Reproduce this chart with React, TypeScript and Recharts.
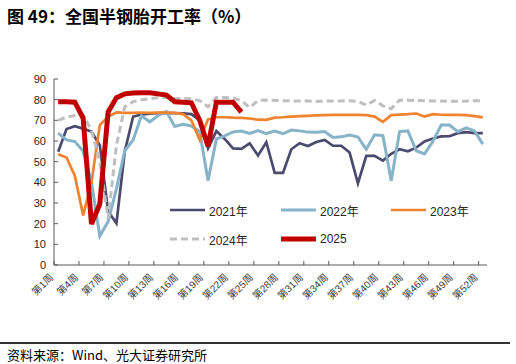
import React from "react"
import { LineChart, Line, XAxis, YAxis } from "recharts"

// 周次 1..52
const weeks = [
  1, 2, 3, 4, 5, 6, 7, 8, 9, 10, 11, 12, 13, 14, 15, 16, 17, 18, 19, 20, 21, 22, 23, 24, 25, 26,
  27, 28, 29, 30, 31, 32, 33, 34, 35, 36, 37, 38, 39, 40, 41, 42, 43, 44, 45, 46, 47, 48, 49, 50, 51, 52,
]
const labelWeeks = [1, 4, 7, 10, 13, 16, 19, 22, 25, 28, 31, 34, 37, 40, 43, 46, 49, 52]
const yTicks = [0, 10, 20, 30, 40, 50, 60, 70, 80, 90]

const y2021 = [
  54.8, 65.8, 67.2, 66, 64.5, 58, 26, 20.2, 55, 71.8, 72.8, 73.2, 73.5, 73.5, 73.5, 73.4, 73, 70, 56.5, 64.8,
  61, 56.4, 56.2, 58.9, 53, 59.4, 44.6, 44.6, 56, 58.9, 57.6, 59.5, 60.5, 57.7, 57.7, 54.4, 39.5, 52.8, 52.8,
  50.5, 53.8, 56, 55, 56.8, 59.8, 61.2, 62.2, 62.3, 63.8, 64.3, 63.8, 63.8,
]
const y2022 = [
  63.8, 60.5, 59.7, 55.2, 40, 14, 21, 37, 55.3, 60.5, 72.2, 69.3, 72.2, 74.3, 67, 68.1, 67.3, 64.5, 40.8, 61,
  62.5, 64.4, 64.8, 63.7, 65, 63.6, 64.8, 63.5, 65.3, 64.9, 64.3, 64.2, 64.6, 61.7, 62, 62.9, 61.9, 56, 63,
  62.6, 40.8, 64.5, 64.9, 55.3, 53.8, 59.8, 67.7, 67.7, 64.5, 66.4, 64.9, 58.5,
]
const y2023 = [
  53.6, 52, 43.2, 24, 40, 67.7, 71.8, 73.8, 73.6, 73.6, 73.8, 73.6, 73.7, 73.7, 73.6, 73, 70, 60.5, 70.5, 71.5,
  71.5, 71.3, 71.2, 70.9, 70.3, 70.2, 71.3, 71.5, 71.8, 72, 72.2, 72.4, 72.5, 72.6, 72.6, 72.6, 72.6, 72.5,
  71.8, 69.3, 72.5, 72.8, 73, 73.3, 71.8, 73, 72.7, 72.6, 72.6, 72.5, 72, 71.4,
]
const y2024 = [
  70, 71.6, 72.3, 72.8, 65, 50, 22.5, 58, 76.6, 79, 80, 80.4, 81, 81, 80.6, 80.6, 80.5, 79.5, 76.6, 81, 81,
  80.8, 79.5, 76.2, 79.6, 79.8, 79.6, 79.5, 79.4, 79.3, 79.3, 79.2, 79.3, 79.3, 79.4, 79.5, 79.2, 77.4, 79.6,
  77, 75.6, 79.8, 79.7, 79.6, 79.5, 79.4, 79.4, 79.2, 79.2, 79.3, 79.5, 79.5,
]
const y2025 = [
  79, 79, 78.8, 71, 19.8, 29.5, 74, 81, 82.8, 83.2, 83.4, 83.3, 82.8, 82.2, 79, 78.8, 78.5, 70, 57.5, 78.8,
  78.8, 78.8, 74,
]

const series = [
  { key: "y2021", name: "2021年", color: "#4B4A6E", width: 2.7, dash: undefined as string | undefined },
  { key: "y2022", name: "2022年", color: "#86B3C8", width: 3, dash: undefined },
  { key: "y2023", name: "2023年", color: "#F0832F", width: 2.7, dash: undefined },
  { key: "y2024", name: "2024年", color: "#BFBFBF", width: 3, dash: "7 4" },
  { key: "y2025", name: "2025", color: "#C00000", width: 5, dash: undefined },
]

const data = weeks.map((w, i) => ({
  week: w,
  y2021: y2021[i],
  y2022: y2022[i],
  y2023: y2023[i],
  y2024: y2024[i],
  y2025: i < y2025.length ? y2025[i] : null,
}))

const FONT = "'Liberation Sans', 'Noto Sans CJK SC', sans-serif"

const WeekTick = (props: any) => {
  const { x, y, payload } = props
  const week = payload.value + 0.5
  return (
    <text
      x={0}
      y={0}
      transform={`translate(${x},${y + 17}) rotate(-45)`}
      textAnchor="end"
      fontSize={10}
      fill="#404040"
      fontFamily={FONT}
    >
      第{week}周
    </text>
  )
}

// 图例位置
const legendItems = [
  { s: 0, left: 170, top: 210 },
  { s: 1, left: 281, top: 210 },
  { s: 2, left: 391, top: 210 },
  { s: 3, left: 170, top: 239 },
  { s: 4, left: 281, top: 239 },
]

export default function App() {
  return (
    <div
      style={{
        position: "absolute",
        left: 0,
        top: 0,
        width: 516,
        height: 364,
        background: "#fff",
        overflow: "hidden",
        fontFamily: FONT,
      }}
    >
      <div
        style={{
          position: "absolute",
          left: 7,
          top: 3,
          fontSize: 17,
          fontWeight: 700,
          color: "#000",
          fontFamily: "'Noto Sans CJK SC', sans-serif",
          whiteSpace: "nowrap",
        }}
      >
        图 49：全国半钢胎开工率（%）
      </div>

      <div style={{ position: "absolute", left: 0, top: 0 }}>
        <LineChart width={516} height={364} data={data} margin={{ top: 79, right: 29, left: 14, bottom: 69 }}>
          <XAxis
            dataKey="week"
            type="number"
            domain={[0.5, 52.5]}
            ticks={labelWeeks.map((w) => w - 0.5)}
            interval={0}
            height={30}
            tickSize={-4}
            tickMargin={0}
            axisLine={{ stroke: "#595959", strokeWidth: 1 }}
            tickLine={{ stroke: "#595959" }}
            tick={<WeekTick />}
          />
          <YAxis
            domain={[0, 90]}
            ticks={yTicks}
            interval={0}
            width={40}
            tickSize={-4}
            tickMargin={12}
            axisLine={{ stroke: "#595959", strokeWidth: 1 }}
            tickLine={{ stroke: "#595959" }}
            tick={{ fontSize: 11, fill: "#262626", fontFamily: FONT }}
          />
          {series.map((s) => (
            <Line
              key={s.key}
              dataKey={s.key}
              name={s.name}
              type="linear"
              stroke={s.color}
              strokeWidth={s.width}
              strokeDasharray={s.dash}
              dot={false}
              activeDot={false}
              isAnimationActive={false}
              connectNulls={false}
            />
          ))}
        </LineChart>
      </div>

      {legendItems.map(({ s, left, top }) => {
        const ser = series[s]
        return (
          <div
            key={ser.key}
            style={{ position: "absolute", left, top: top - 8, height: 16, display: "flex", alignItems: "center" }}
          >
            <svg width={36} height={16}>
              <line
                x1={0}
                y1={8}
                x2={35}
                y2={8}
                stroke={ser.color}
                strokeWidth={ser.width}
                strokeDasharray={ser.dash}
              />
            </svg>
            <span style={{ fontSize: 12, color: "#262626", marginLeft: 3 }}>{ser.name}</span>
          </div>
        )
      })}

      <div style={{ position: "absolute", left: 0, top: 342, width: 510, height: 1.5, background: "#333" }} />
      <div
        style={{
          position: "absolute",
          left: 7,
          top: 345,
          fontSize: 13,
          color: "#000",
          fontFamily: "'Noto Sans CJK SC', sans-serif",
          whiteSpace: "nowrap",
        }}
      >
        资料来源：Wind、光大证券研究所
      </div>
    </div>
  )
}
